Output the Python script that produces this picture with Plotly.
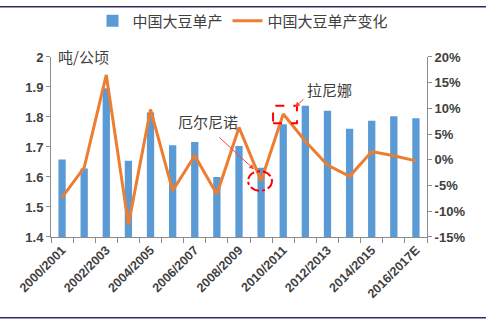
import plotly.graph_objects as go

seasons = ["2000/2001", "2001/2002", "2002/2003", "2003/2004", "2004/2005", "2005/2006",
           "2006/2007", "2007/2008", "2008/2009", "2009/2010", "2010/2011", "2011/2012",
           "2012/2013", "2013/2014", "2014/2015", "2015/2016", "2016/2017E"]
yield_t_ha = [1.658, 1.628, 1.896, 1.654, 1.815, 1.706, 1.717, 1.600, 1.703, 1.631,
              1.776, 1.837, 1.821, 1.761, 1.787, 1.802, 1.796]
yield_change_pct = [-7.3, -1.5, 16.5, -12.6, 9.8, -6.0, 0.8, -6.7, 6.3, -4.1,
                    8.9, 3.6, -1.0, -3.2, 1.6, 0.8, -0.2]
left_ticks = [1.4, 1.5, 1.6, 1.7, 1.8, 1.9, 2.0]
left_ticktext = ["1.4", "1.5", "1.6", "1.7", "1.8", "1.9", "2"]
right_ticks = [-15, -10, -5, 0, 5, 10, 15, 20]
right_ticktext = ["-15%", "-10%", "-5%", "0%", "5%", "10%", "15%", "20%"]

idx = list(range(len(seasons)))
label_idx = idx[::2]
label_text = [seasons[i] for i in label_idx]

FONT = "Liberation Sans, Noto Sans CJK SC, sans-serif"
CJK = "Noto Sans CJK SC, sans-serif"
TXT = "#404040"

fig = go.Figure()
fig.add_trace(go.Bar(x=idx, y=yield_t_ha, name="中国大豆单产", marker_color="#5B9BD5",
                     marker_line_width=0, yaxis="y"))
fig.add_trace(go.Scatter(x=idx, y=yield_change_pct, name="中国大豆单产变化", mode="lines",
                         line=dict(color="#ED7D31", width=3), yaxis="y2"))

fig.update_layout(
    width=486, height=323,
    margin=dict(l=51, r=59, t=53, b=86),
    paper_bgcolor="white", plot_bgcolor="white",
    bargap=0.67,
    showlegend=True,
    legend=dict(orientation="h", xref="container", yref="container", x=0.5, y=0.935,
                xanchor="center", yanchor="middle",
                font=dict(family=CJK, size=15, color=TXT), itemwidth=30,
                bgcolor="rgba(0,0,0,0)", tracegroupgap=0),
    xaxis=dict(range=[-0.5, len(seasons) - 0.5], tickmode="array", tickvals=label_idx,
               ticktext=label_text, tickangle=-45, ticks="", showgrid=False, zeroline=False,
               showline=True, linecolor="#8c8c8c", linewidth=1,
               tickfont=dict(family=FONT, size=12.5, color=TXT, weight="bold"),
               minor=dict(ticks="outside", tick0=-0.5, dtick=1, ticklen=5,
                          tickcolor="#8c8c8c", showgrid=False)),
    yaxis=dict(range=[1.4, 2.0], tickmode="array", tickvals=left_ticks, ticktext=left_ticktext,
               ticks="outside", ticklen=4, tickcolor="#8c8c8c", showgrid=False, zeroline=False,
               showline=True, linecolor="#8c8c8c", linewidth=1,
               tickfont=dict(family=FONT, size=13, color=TXT, weight="bold")),
    yaxis2=dict(range=[-15, 20], overlaying="y", side="right", tickmode="array",
                tickvals=right_ticks, ticktext=right_ticktext,
                ticks="outside", ticklen=4, tickcolor="#8c8c8c", showgrid=False, zeroline=False,
                showline=True, linecolor="#8c8c8c", linewidth=1,
                tickfont=dict(family=FONT, size=13, color=TXT, weight="bold")),
)

# unit label
fig.add_annotation(text="吨/公顷", xref="paper", yref="paper", x=0.012, y=1.0,
                   xanchor="left", yanchor="middle", showarrow=False,
                   font=dict(family=CJK, size=15, color=TXT))
# El Nino / La Nina annotations
fig.add_annotation(text="厄尔尼诺", xref="x", yref="y2", x=6.6, y=7.4, showarrow=False,
                   font=dict(family=CJK, size=15, color=TXT))
fig.add_annotation(text="拉尼娜", xref="x", yref="y2", x=12.11, y=13.6, showarrow=False,
                   font=dict(family=CJK, size=15, color=TXT))
fig.add_annotation(text="", xref="x", yref="y2", x=8.68, y=-1.85, axref="x", ayref="y2",
                   ax=7.05, ay=4.6, showarrow=True, arrowhead=2, arrowsize=1, arrowwidth=1,
                   arrowcolor="#FF4040")
fig.add_annotation(text="", xref="x", yref="y2", x=10.53, y=10.3, axref="x", ayref="y2",
                   ax=10.98, ay=12.0, showarrow=True, arrowhead=2, arrowsize=1, arrowwidth=1,
                   arrowcolor="#FF4040")
fig.add_shape(type="circle", xref="x", yref="y2", x0=8.41, x1=9.49, y0=-6.0, y1=-2.2,
              line=dict(color="#FF0000", width=2, dash="dashdot"))
fig.add_shape(type="rect", xref="x", yref="y2", x0=9.54, x1=10.62, y0=7.1, y1=10.5,
              line=dict(color="#FF0000", width=2, dash="dash"))

# frame lines at top and bottom of the picture
fig.add_shape(type="line", xref="paper", yref="paper", x0=-0.14, x1=1.16, y0=1.279, y1=1.279,
              line=dict(color="#2E2E5E", width=1.5))
fig.add_shape(type="line", xref="paper", yref="paper", x0=-0.14, x1=1.16, y0=-0.449, y1=-0.449,
              line=dict(color="#2E2E5E", width=1.5))

fig.write_html("out.html")
